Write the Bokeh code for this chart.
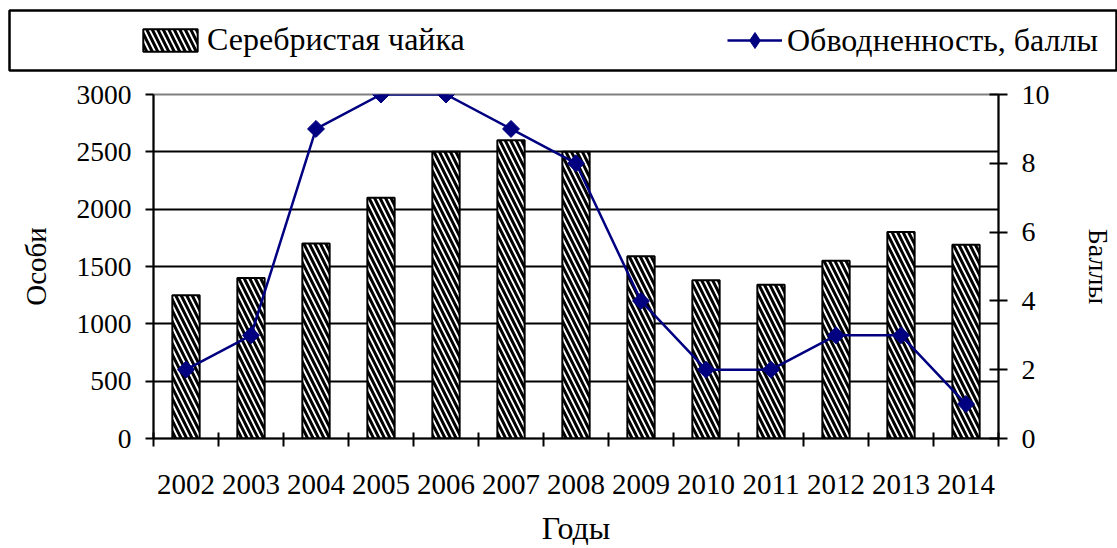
import math
from bokeh.plotting import figure
from bokeh.models import (Range1d, LinearAxis, FixedTicker, Legend, LegendItem)
from bokeh.layouts import column
from bokeh.embed import file_html
from bokeh.resources import INLINE

years = [2002, 2003, 2004, 2005, 2006, 2007, 2008, 2009, 2010, 2011, 2012, 2013, 2014]
gulls = [1250, 1400, 1700, 2100, 2500, 2600, 2500, 1590, 1380, 1340, 1550, 1800, 1690]
water = [2, 3, 9, 10, 10, 9, 8, 4, 2, 2, 3, 3, 1]
left_ticks = [0, 500, 1000, 1500, 2000, 2500, 3000]
right_ticks = [0, 2, 4, 6, 8, 10]
bar_label = "Серебристая чайка"
line_label = "Обводненность, баллы"

FONT = "Liberation Serif"
NAVY = "#000080"
W = 1117

bar_style = dict(fill_color="white", line_color="black", line_width=2,
                 hatch_pattern="\\", hatch_color="black", hatch_scale=11, hatch_weight=3)
line_style = dict(line_color=NAVY, line_width=2.5)
mark_style = dict(marker="square", angle=math.pi / 4, size=12, fill_color=NAVY, line_color=NAVY)

# ---------- legend strip (its renderers hold the series but lie outside its ranges) ----------
top = figure(width=W, height=72, x_range=Range1d(0, 1), y_range=Range1d(0, 1),
             x_axis_type=None, y_axis_type=None, toolbar_location=None,
             output_backend="svg", min_border_left=9, min_border_right=0,
             min_border_top=10, min_border_bottom=2)
top.frame_align = False
top.grid.visible = False
top.outline_line_color = "black"
top.outline_line_width = 2.5
lb = top.vbar(x=years, top=gulls, width=0.42, **bar_style)
ll = top.line(x=years, y=water, **line_style)
lm = top.scatter(x=years, y=water, marker="diamond", size=17, fill_color=NAVY, line_color=NAVY)
common = dict(orientation="horizontal", border_line_color=None, background_fill_alpha=0,
              padding=0, margin=0, label_text_font=FONT, label_text_font_size="32px",
              label_text_color="black")
leg1 = Legend(items=[LegendItem(label=bar_label, renderers=[lb])], location=(127, 12),
              glyph_width=68, glyph_height=28, label_standoff=3, **common)
leg2 = Legend(items=[LegendItem(label=line_label, renderers=[ll, lm])], location=(718, 10),
              glyph_width=55, glyph_height=40, label_standoff=5, **common)
top.add_layout(leg1, "center")
top.add_layout(leg2, "center")

# ---------- main chart ----------
p = figure(width=W, height=476, x_range=Range1d(2001.5, 2014.5), y_range=Range1d(0, 3000),
           toolbar_location=None, output_backend="svg",
           min_border_left=153, min_border_right=W - 998, min_border_top=22,
           min_border_bottom=109)
p.frame_align = False
p.extra_y_ranges = {"balls": Range1d(0, 10)}
p.outline_line_color = "#808080"
p.outline_line_width = 2
p.xgrid.visible = False
p.ygrid.ticker = FixedTicker(ticks=left_ticks[1:-1])
p.ygrid.grid_line_color = "black"
p.ygrid.grid_line_width = 2

p.vbar(x=years, top=gulls, width=0.42, **bar_style)
p.line(x=years, y=water, y_range_name="balls", **line_style)
p.scatter(x=years, y=water, y_range_name="balls", **mark_style)

# x axis: labels at centres, ticks between categories
xa = p.xaxis[0]
xa.ticker = FixedTicker(ticks=years, minor_ticks=[y - 0.5 for y in years] + [years[-1] + 0.5])
xa.major_tick_line_color = None
xa.minor_tick_line_color = "black"
xa.minor_tick_line_width = 2
xa.minor_tick_in = 6
xa.minor_tick_out = 8
xa.axis_line_width = 2
xa.axis_line_color = "black"
xa.major_label_standoff = 28
xa.major_label_text_font = FONT
xa.major_label_text_font_size = "29px"
xa.major_label_text_color = "black"
xa.axis_label = "Годы"
xa.axis_label_text_font = FONT
xa.axis_label_text_font_size = "32px"
xa.axis_label_text_font_style = "normal"
xa.axis_label_text_color = "black"
xa.axis_label_standoff = 13

ya = p.yaxis[0]
ya.ticker = FixedTicker(ticks=left_ticks)
ya.minor_tick_line_color = None
ya.major_tick_in = 0
ya.major_tick_out = 8
ya.major_tick_line_width = 2
ya.axis_line_width = 2
ya.axis_line_color = "black"
ya.major_label_standoff = 14
ya.major_label_text_font = FONT
ya.major_label_text_font_size = "27.5px"
ya.major_label_text_color = "black"
ya.axis_label = "Особи"
ya.axis_label_text_font = FONT
ya.axis_label_text_font_size = "29px"
ya.axis_label_text_font_style = "normal"
ya.axis_label_text_color = "black"
ya.axis_label_standoff = 22

ra = LinearAxis(y_range_name="balls", ticker=FixedTicker(ticks=right_ticks))
ra.minor_tick_line_color = None
ra.major_tick_in = 9
ra.major_tick_out = 9
ra.major_tick_line_width = 2
ra.axis_line_width = 2
ra.axis_line_color = "black"
ra.major_label_standoff = 14
ra.major_label_text_font = FONT
ra.major_label_text_font_size = "28px"
ra.major_label_text_color = "black"
ra.axis_label = "Баллы"
ra.axis_label_text_font = FONT
ra.axis_label_text_font_size = "28px"
ra.axis_label_text_font_style = "normal"
ra.axis_label_text_color = "black"
ra.axis_label_standoff = 30
p.add_layout(ra, "right")

layout = column(top, p)
open("out.html", "w").write(file_html(layout, INLINE))
